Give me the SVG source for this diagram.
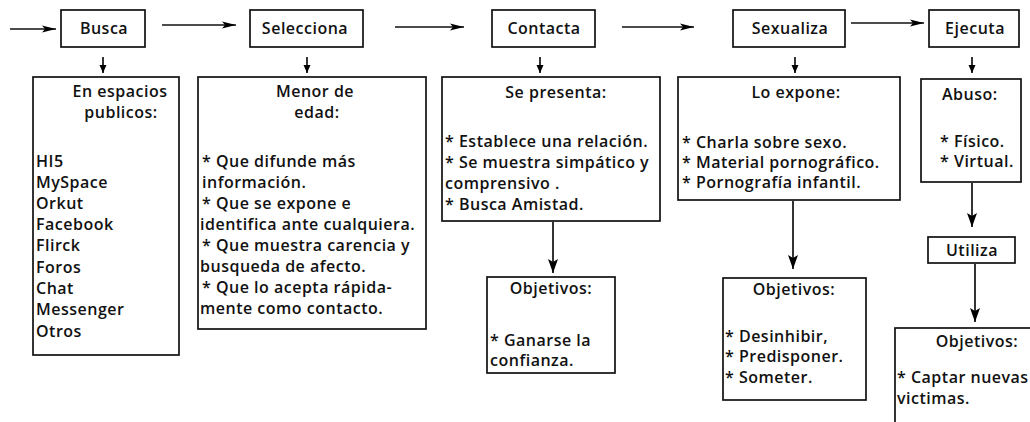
<svg xmlns="http://www.w3.org/2000/svg" width="1030" height="422" viewBox="0 0 1030 422">
<defs>
<marker id="ah" viewBox="0 0 14 8" refX="14" refY="4" markerWidth="14" markerHeight="8" markerUnits="userSpaceOnUse" orient="auto">
<path d="M0,0.5 L14,4 L0,7.5 L3,4 Z" fill="#000"/>
</marker>
<marker id="ahs" viewBox="0 0 8 8" refX="8" refY="4" markerWidth="8" markerHeight="8" markerUnits="userSpaceOnUse" orient="auto">
<path d="M0,0.5 L8,4 L0,7.5 Z" fill="#000"/>
</marker>
<marker id="ahb" viewBox="0 0 14 10" refX="14" refY="5" markerWidth="14" markerHeight="10" markerUnits="userSpaceOnUse" orient="auto">
<path d="M0,0 L14,5 L0,10 L3,5 Z" fill="#000"/>
</marker>
</defs>
<style>
rect{fill:#fff;stroke:#111;stroke-width:1.7}
text{font-family:"Open Sans","Noto Sans","Liberation Sans",sans-serif;font-size:16px;font-weight:600;letter-spacing:0.5px;fill:#111}
.c{text-anchor:middle}
.ln{stroke:#111;stroke-width:1.7;fill:none}
</style>
<rect x="0" y="0" width="1030" height="422" style="fill:#fff;stroke:none"/>
<g id="connectors">
<line class="ln" x1="10" y1="29" x2="56" y2="29" marker-end="url(#ah)"/>
<line class="ln" x1="162" y1="25" x2="236" y2="25" marker-end="url(#ah)"/>
<line class="ln" x1="395" y1="27" x2="464" y2="27" marker-end="url(#ah)"/>
<line class="ln" x1="622" y1="27" x2="694" y2="27" marker-end="url(#ah)"/>
<line class="ln" x1="851" y1="23" x2="924" y2="23" marker-end="url(#ah)"/>
<line class="ln" x1="103" y1="57" x2="103" y2="73" marker-end="url(#ahs)"/>
<line class="ln" x1="307" y1="57" x2="307" y2="73" marker-end="url(#ahs)"/>
<line class="ln" x1="540" y1="57" x2="540" y2="73" marker-end="url(#ahs)"/>
<line class="ln" x1="795" y1="57" x2="795" y2="73" marker-end="url(#ahs)"/>
<line class="ln" x1="972" y1="57" x2="972" y2="73" marker-end="url(#ahs)"/>
<line class="ln" x1="553" y1="222" x2="553" y2="273" marker-end="url(#ahb)"/>
<line class="ln" x1="793" y1="201" x2="793" y2="269" marker-end="url(#ahb)"/>
<line class="ln" x1="972" y1="183" x2="972" y2="227" marker-end="url(#ahb)"/>
<line class="ln" x1="975" y1="264" x2="975" y2="322" marker-end="url(#ahb)"/>
</g>
<g id="busca"><rect x="61" y="10" width="84" height="37"/><text class="c" x="104" y="34">Busca</text></g>
<g id="selecciona"><rect x="250" y="10" width="113" height="37"/><text class="c" x="305" y="34">Selecciona</text></g>
<g id="contacta"><rect x="492" y="10" width="103" height="37"/><text class="c" x="544" y="34">Contacta</text></g>
<g id="sexualiza"><rect x="733" y="10" width="112" height="37"/><text class="c" x="790" y="34">Sexualiza</text></g>
<g id="ejecuta"><rect x="929" y="10" width="90" height="37"/><text class="c" x="975" y="34">Ejecuta</text></g>
<g id="espacios">
<rect x="33" y="77" width="146" height="278"/>
<text class="c" x="120" y="97">En espacios</text>
<text class="c" x="121" y="118">publicos:</text>
<text x="36" y="167">HI5</text>
<text x="36" y="188">MySpace</text>
<text x="36" y="209">Orkut</text>
<text x="36" y="230">Facebook</text>
<text x="36" y="251">Flirck</text>
<text x="36" y="273">Foros</text>
<text x="36" y="294">Chat</text>
<text x="36" y="315">Messenger</text>
<text x="36" y="337">Otros</text>
</g>
<g id="menor">
<rect x="198" y="77" width="228" height="252"/>
<text class="c" x="315" y="97">Menor de</text>
<text class="c" x="317" y="118">edad:</text>
<text x="202" y="167">* Que difunde más</text>
<text x="202" y="188">información.</text>
<text x="202" y="209">* Que se expone e</text>
<text x="200" y="230">identifica ante cualquiera.</text>
<text x="202" y="251">* Que muestra carencia y</text>
<text x="200" y="272">busqueda de afecto.</text>
<text x="202" y="293">* Que lo acepta rápida-</text>
<text x="200" y="314">mente como contacto.</text>
</g>
<g id="presenta">
<rect x="442" y="77" width="218" height="144"/>
<text class="c" x="556" y="98">Se presenta:</text>
<text x="445" y="147">* Establece una relación.</text>
<text x="445" y="168">* Se muestra simpático y</text>
<text x="445" y="189">comprensivo .</text>
<text x="445" y="210">* Busca Amistad.</text>
</g>
<g id="obj1">
<rect x="487" y="277" width="128" height="96"/>
<text class="c" x="551" y="294">Objetivos:</text>
<text x="490" y="346">* Ganarse la</text>
<text x="490" y="366">confianza.</text>
</g>
<g id="expone">
<rect x="678" y="77" width="222" height="123"/>
<text class="c" x="796" y="98">Lo expone:</text>
<text x="682" y="148">* Charla sobre sexo.</text>
<text x="682" y="168">* Material pornográfico.</text>
<text x="682" y="188">* Pornografía infantil.</text>
</g>
<g id="obj2">
<rect x="723" y="278" width="143" height="122"/>
<text class="c" x="794" y="295">Objetivos:</text>
<text x="725" y="342">* Desinhibir,</text>
<text x="725" y="362">* Predisponer.</text>
<text x="725" y="383">* Someter.</text>
</g>
<g id="abuso">
<rect x="921" y="79" width="100" height="103"/>
<text x="942" y="100">Abuso:</text>
<text x="940" y="147">* Físico.</text>
<text x="940" y="167">* Virtual.</text>
</g>
<g id="utiliza"><rect x="928" y="237" width="87" height="26"/><text class="c" x="972" y="256">Utiliza</text></g>
<g id="obj3">
<rect x="895" y="328" width="145" height="100"/>
<text class="c" x="977" y="347">Objetivos:</text>
<text x="897" y="383">* Captar nuevas</text>
<text x="897" y="404">victimas.</text>
</g>
</svg>
